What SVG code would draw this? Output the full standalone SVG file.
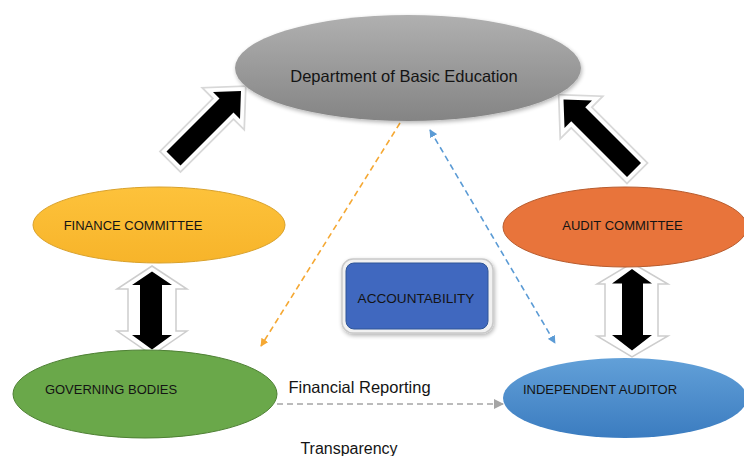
<svg xmlns="http://www.w3.org/2000/svg" width="744" height="456" viewBox="0 0 744 456">
  <defs>
    <linearGradient id="gGray" x1="0" y1="0" x2="0" y2="1">
      <stop offset="0" stop-color="#b0b0b0"/>
      <stop offset="1" stop-color="#848484"/>
    </linearGradient>
    <linearGradient id="gGold" x1="0" y1="0" x2="0" y2="1">
      <stop offset="0" stop-color="#fdc23b"/>
      <stop offset="1" stop-color="#f7b42a"/>
    </linearGradient>
    <linearGradient id="gBlue" x1="0" y1="0" x2="0" y2="1">
      <stop offset="0" stop-color="#62a0d8"/>
      <stop offset="1" stop-color="#3b7cc0"/>
    </linearGradient>
    <filter id="shadow" x="-10%" y="-10%" width="120%" height="130%">
      <feGaussianBlur in="SourceAlpha" stdDeviation="2"/>
      <feOffset dx="1" dy="2"/>
      <feComponentTransfer><feFuncA type="linear" slope="0.3"/></feComponentTransfer>
      <feMerge><feMergeNode/><feMergeNode in="SourceGraphic"/></feMerge>
    </filter>
    <marker id="mOrange" viewBox="0 0 10 10" refX="9" refY="5" markerWidth="8" markerHeight="8" markerUnits="userSpaceOnUse" orient="auto-start-reverse">
      <path d="M0,0 L10,5 L0,10 Z" fill="#f5a833"/>
    </marker>
    <marker id="mBlue" viewBox="0 0 10 10" refX="9" refY="5" markerWidth="8" markerHeight="8" markerUnits="userSpaceOnUse" orient="auto-start-reverse">
      <path d="M0,0 L10,5 L0,10 Z" fill="#5b9bd5"/>
    </marker>
    <marker id="mGrey" viewBox="0 0 10 10" refX="9" refY="5" markerWidth="10" markerHeight="10" markerUnits="userSpaceOnUse" orient="auto-start-reverse">
      <path d="M0,0 L10,5 L0,10 Z" fill="#a5a5a5"/>
    </marker>
  </defs>
  <style>
    text { font-family: "Liberation Sans", Arial, sans-serif; fill: #141414; }
    .cap { font-size: 13px; }
    .dash { fill: none; stroke-width: 1.6; stroke-dasharray: 6 4; }
    .halo1 { fill: #dadada; stroke: #d8d8d8; stroke-width: 11; stroke-linejoin: miter; stroke-miterlimit: 6; }
    .halo2 { fill: #ffffff; stroke: #ffffff; stroke-width: 7.5; stroke-linejoin: miter; stroke-miterlimit: 6; }
    .blk { fill: #000000; }
    .frame { fill: #ffffff; stroke: #cdcdcd; stroke-width: 1.5; }
  </style>

  <rect width="744" height="456" fill="#ffffff"/>

  <!-- connectors -->
  <g id="connectors">
    <!-- block arrows towards the department -->
    <g id="arrow-finance-dept">
      <polygon class="halo1" points="241,91 240,119 233.5,112.5 180.5,165.5 166.5,151.5 219.5,98.5 213,92"/>
      <polygon class="halo2" points="241,91 240,119 233.5,112.5 180.5,165.5 166.5,151.5 219.5,98.5 213,92"/>
      <polygon class="blk" points="241,91 240,119 233.5,112.5 180.5,165.5 166.5,151.5 219.5,98.5 213,92"/>
    </g>
    <g id="arrow-audit-dept">
      <polygon class="halo1" points="563.5,99.5 592,100.5 585.25,107.25 641,163 627,177 571.25,121.25 564.5,128"/>
      <polygon class="halo2" points="563.5,99.5 592,100.5 585.25,107.25 641,163 627,177 571.25,121.25 564.5,128"/>
      <polygon class="blk" points="563.5,99.5 592,100.5 585.25,107.25 641,163 627,177 571.25,121.25 564.5,128"/>
    </g>
    <!-- two-way block arrows -->
    <g id="arrow-finance-governing">
      <polygon class="frame" points="152,266 187,289 176,289 176,331 187,331 152,355 117,331 128,331 128,289 117,289"/>
      <polygon class="blk" points="152,271.5 172,285 162,285 162,335 172,335 152,349.5 132,335 140,335 140,285 132,285"/>
    </g>
    <g id="arrow-audit-independent">
      <polygon class="frame" points="632,263 668,284 658,284 658,336 668,336 632,357 597,336 605,336 605,284 597,284"/>
      <polygon class="blk" points="632,269 652,283.5 643,283.5 643,335 652,335 632,350.5 612,335 622,335 622,283.5 612,283.5"/>
    </g>
    <!-- dashed links -->
    <line class="dash" x1="400" y1="123" x2="261" y2="346" stroke="#f5a833" marker-end="url(#mOrange)"/>
    <line class="dash" x1="430" y1="130" x2="555" y2="343" stroke="#5b9bd5" marker-start="url(#mBlue)" marker-end="url(#mBlue)"/>
    <line class="dash" x1="277" y1="404" x2="503" y2="404" stroke="#a5a5a5" marker-end="url(#mGrey)"/>
  </g>

  <!-- nodes -->
  <g id="dept">
    <ellipse cx="408" cy="68" rx="173" ry="53" fill="url(#gGray)" filter="url(#shadow)"/>
    <text x="404" y="81.5" font-size="16.5" text-anchor="middle">Department of Basic Education</text>
  </g>

  <g id="finance">
    <ellipse cx="159" cy="225" rx="126" ry="38" fill="url(#gGold)" stroke="#d9a12a" stroke-width="1"/>
    <text class="cap" x="133" y="229.5" text-anchor="middle">FINANCE COMMITTEE</text>
  </g>

  <g id="governing">
    <ellipse cx="145" cy="394" rx="132" ry="44" fill="#6aa84a" stroke="#4e8034" stroke-width="1"/>
    <text class="cap" x="111" y="394" text-anchor="middle">GOVERNING BODIES</text>
  </g>

  <g id="audit">
    <ellipse cx="625" cy="227" rx="122" ry="40" fill="#e8743b" stroke="#b85c2e" stroke-width="1"/>
    <text class="cap" x="622.5" y="229.5" text-anchor="middle">AUDIT COMMITTEE</text>
  </g>

  <g id="independent">
    <ellipse cx="625" cy="398" rx="122" ry="40" fill="url(#gBlue)"/>
    <text class="cap" x="600" y="394" text-anchor="middle">INDEPENDENT AUDITOR</text>
  </g>

  <g id="accountability">
    <rect x="342" y="259" width="151" height="74" rx="11" fill="#f1f1f1" stroke="#c9c9c9" stroke-width="1.5" filter="url(#shadow)"/>
    <rect x="346" y="263" width="142" height="66" rx="8" fill="#4068bf" stroke="#2e5597" stroke-width="1"/>
    <text x="416" y="302.5" font-size="13.6" text-anchor="middle">ACCOUNTABILITY</text>
  </g>

  <g id="labels">
    <text x="359.5" y="393" font-size="16.5" text-anchor="middle">Financial Reporting</text>
    <text x="349" y="454" font-size="16" text-anchor="middle">Transparency</text>
  </g>
</svg>
